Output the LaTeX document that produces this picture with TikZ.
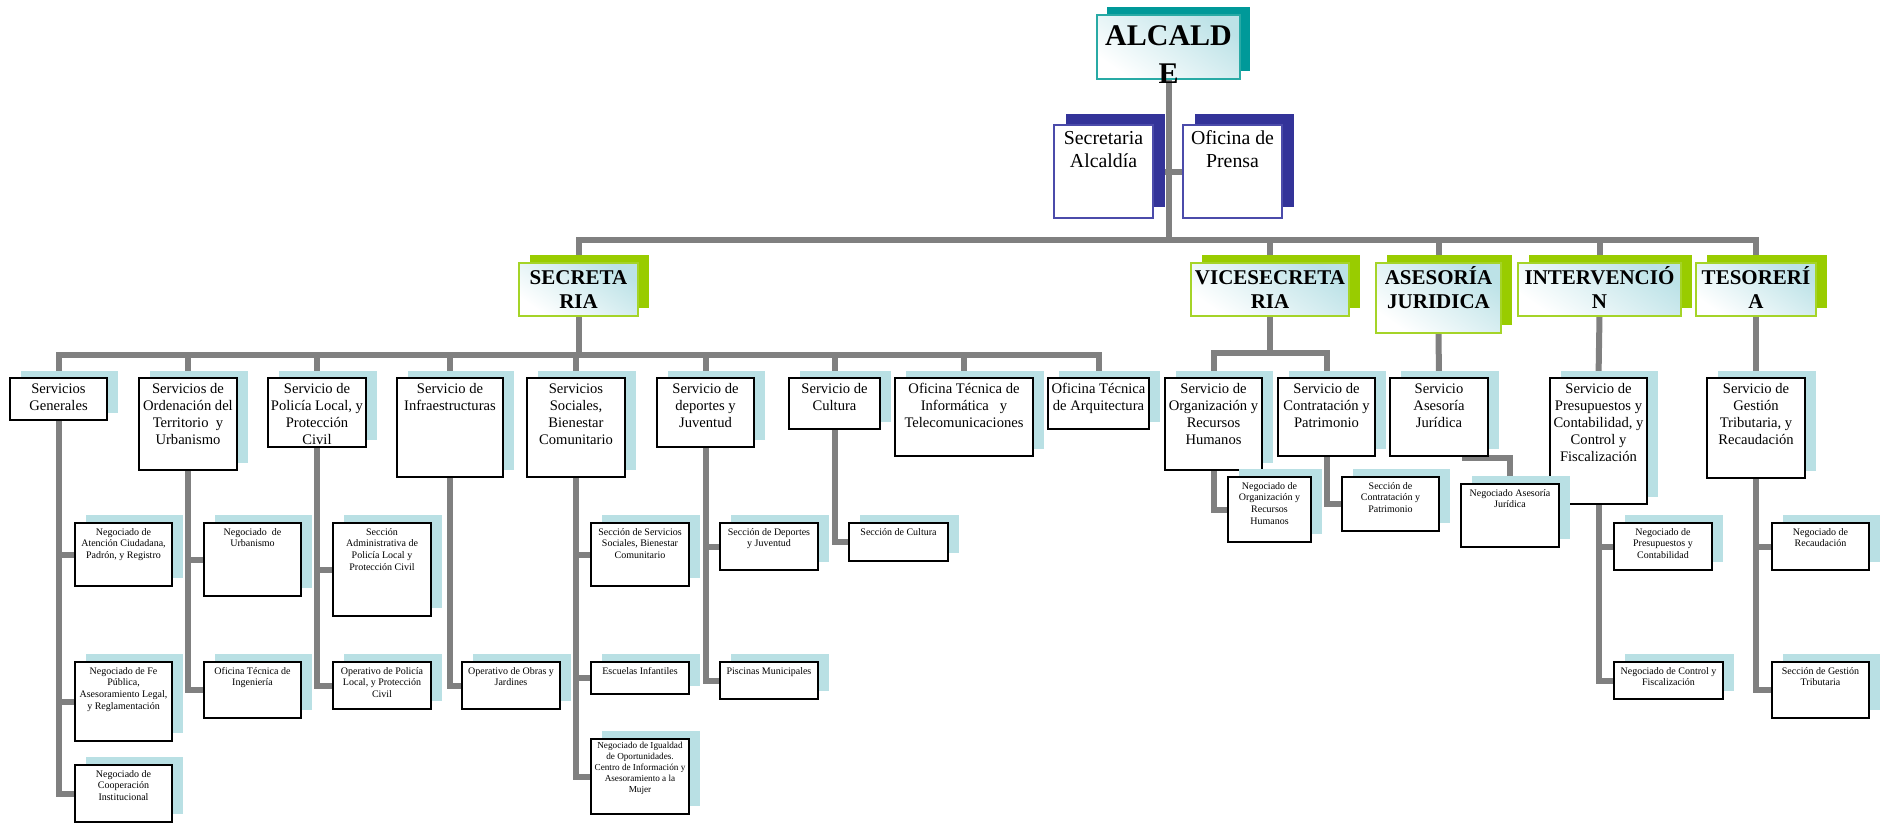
\documentclass[tikz,border=0pt]{standalone}
\usepackage{fontspec}
\setmainfont{Liberation Serif}
\usetikzlibrary{calc}
\definecolor{tealsh}{RGB}{0,153,153}
\definecolor{tealbd}{RGB}{40,170,165}
\definecolor{navysh}{RGB}{51,51,153}
\definecolor{navybd}{RGB}{75,75,170}
\definecolor{greensh}{RGB}{153,204,0}
\definecolor{greenbd}{RGB}{165,212,40}
\definecolor{lightsh}{RGB}{185,224,228}
\definecolor{gradc}{RGB}{188,226,231}
\definecolor{conngray}{RGB}{128,128,128}
\pgfdeclarelayer{bg}
\pgfsetlayers{bg,main}
\newcommand\kast{\rule{0pt}{30pt}}
\newcommand\kbst{\rule{0pt}{19pt}}
\newcommand\kcst{\rule{0pt}{21pt}}
\newcommand\kdst{\rule{0pt}{15pt}}
\newcommand\kest{\rule{0pt}{12pt}}
\newcommand\kfst{\rule{0pt}{9.5pt}}
\tikzset{
  conn/.style={draw=conngray, line width=6pt},
  txtbase/.style={anchor=north, inner sep=0pt, outer sep=0pt, align=center, text=black},
  kash/.style={fill=tealsh, xshift=10pt, yshift=8.5pt},
  kabox/.style={draw=tealbd, line width=1.8pt, top color=gradc, bottom color=white, shading angle=-35},
  katxt/.style={font=\fontsize{30}{38}\selectfont\bfseries},
  kbsh/.style={fill=navysh, xshift=11.5pt, yshift=11pt},
  kbbox/.style={draw=navybd, line width=1.6pt, fill=white},
  kbtxt/.style={font=\fontsize{19.8}{23}\selectfont},
  kcsh/.style={fill=greensh, xshift=10.5pt, yshift=8pt},
  kcbox/.style={draw=greenbd, line width=1.8pt, top color=gradc, bottom color=white, shading angle=-35},
  kctxt/.style={font=\fontsize{21}{24}\selectfont\bfseries},
  kdsh/.style={fill=lightsh, xshift=10.5pt, yshift=7.5pt},
  kdbox/.style={draw=black, line width=2.4pt, fill=white},
  kdtxt/.style={font=\fontsize{14.6}{17.2}\selectfont},
  kesh/.style={fill=lightsh, xshift=10.5pt, yshift=8pt},
  kebox/.style={draw=black, line width=2.4pt, fill=white},
  ketxt/.style={font=\fontsize{10}{11.8}\selectfont},
  kfsh/.style={fill=lightsh, xshift=10.5pt, yshift=8pt},
  kfbox/.style={draw=black, line width=2.4pt, fill=white},
  kftxt/.style={font=\fontsize{9.2}{10.9}\selectfont},
}
% name, kind, x1, y1, x2, y2, text
\newcommand\bx[7]{%
  \fill[#2sh] (#3,#4) rectangle (#5,#6);
  \node[#2box, inner sep=0pt, outer sep=0pt, anchor=north west,
        minimum width={(#5-#3)*1pt}, minimum height={(#6-#4)*1pt}] (#1) at (#3,#4) {};
  \node[txtbase, #2txt] (#1t) at (#1.north) {\csname #2st\endcsname#7};
}
\begin{document}
\begin{tikzpicture}[x=1pt,y=-1pt]
\useasboundingbox (0,0) rectangle (1880,823);

% level 1
\bx{alc}{ka}{1097}{15}{1240}{79}{ALCALD\\E}
\bx{sal}{kb}{1054}{125}{1153}{218}{Secretaria\\Alcaldía}
\bx{ofp}{kb}{1183}{125}{1282}{218}{Oficina de\\Prensa}

% level 2
\bx{sec}{kc}{519}{263}{638}{316}{SECRETA\\RIA}
\bx{vic}{kc}{1191}{263}{1349}{316}{VICESECRETA\\RIA}
\bx{ase}{kc}{1376}{263}{1501}{333}{ASESORÍA\\JURIDICA}
\bx{int}{kc}{1518}{263}{1681}{316}{INTERVENCIÓ\\N}
\bx{tes}{kc}{1696}{263}{1816}{316}{TESORERÍ\\A}

% level 3
\bx{gen}{kd}{10}{378}{107}{420}{Servicios\\Generales}
\bx{ord}{kd}{139}{378}{237}{470}{Servicios de\\Ordenación del\\Territorio~ y\\Urbanismo}
\bx{pol}{kd}{268}{378}{366}{447}{Servicio de\\Policía Local, y\\Protección\\Civil}
\bx{inf}{kd}{397}{378}{503}{477}{Servicio de\\Infraestructuras}
\bx{soc}{kd}{527}{378}{625}{477}{Servicios\\Sociales,\\Bienestar\\Comunitario}
\bx{dep}{kd}{657}{378}{754}{447}{Servicio de\\deportes y\\Juventud}
\bx{cul}{kd}{789}{378}{880}{429}{Servicio de\\Cultura}
\bx{tic}{kd}{895}{378}{1033}{456}{Oficina Técnica de\\Informática~~ y\\Telecomunicaciones}
\bx{arq}{kd}{1048}{378}{1149}{429}{Oficina Técnica\\de Arquitectura}
\bx{org}{kd}{1165}{378}{1262}{470}{Servicio de\\Organización y\\Recursos\\Humanos}
\bx{con}{kd}{1278}{378}{1375}{456}{Servicio de\\Contratación y\\Patrimonio}
\bx{saj}{kd}{1390}{378}{1488}{456}{Servicio\\Asesoría\\Jurídica}
\bx{spc}{kd}{1550}{378}{1647}{504}{Servicio de\\Presupuestos y\\Contabilidad, y\\Control y\\Fiscalización}
\bx{sgt}{kd}{1707}{378}{1805}{478}{Servicio de\\Gestión\\Tributaria, y\\Recaudación}

% level 4
\bx{n1}{ke}{75}{523}{172}{586}{Negociado de\\Atención Ciudadana,\\Padrón, y Registro}
\bx{n2}{ke}{75}{662}{172}{741}{Negociado de Fe\\Pública,\\Asesoramiento Legal,\\y Reglamentación}
\bx{n3}{ke}{75}{765}{172}{822}{Negociado de\\Cooperación\\Institucional}
\bx{n4}{ke}{204}{523}{301}{596}{Negociado~ de\\Urbanismo}
\bx{n5}{ke}{204}{662}{301}{718}{Oficina Técnica de\\Ingeniería}
\bx{n6}{ke}{333}{523}{431}{616}{Sección\\Administrativa de\\Policía Local y\\Protección Civil}
\bx{n7}{ke}{333}{662}{431}{709}{Operativo de Policía\\Local, y Protección\\Civil}
\bx{n8}{ke}{462}{662}{560}{709}{Operativo de Obras y\\Jardines}
\bx{n9}{ke}{591}{523}{689}{586}{Sección de Servicios\\Sociales, Bienestar\\Comunitario}
\bx{n10}{ke}{591}{662}{689}{694}{Escuelas Infantiles}
\bx{n11}{kf}{591}{739}{689}{814}{Negociado de Igualdad\\de Oportunidades.\\Centro de Información y\\Asesoramiento a la\\Mujer}
\bx{n12}{ke}{720}{523}{818}{570}{Sección de Deportes\\y Juventud}
\bx{n13}{ke}{720}{662}{818}{699}{Piscinas Municipales}
\bx{n14}{ke}{849}{523}{948}{561}{Sección de Cultura}
\bx{n15}{ke}{1228}{477}{1311}{542}{Negociado de\\Organización y\\Recursos\\Humanos}
\bx{n16}{ke}{1342}{477}{1439}{531}{Sección de\\Contratación y\\Patrimonio}
\bx{n17}{ke}{1461}{484}{1559}{547}{Negociado Asesoría\\Jurídica}
\bx{n18}{ke}{1614}{523}{1712}{570}{Negociado de\\Presupuestos y\\Contabilidad}
\bx{n19}{ke}{1614}{662}{1723}{699}{Negociado de Control y\\Fiscalización}
\bx{n20}{ke}{1772}{523}{1869}{570}{Negociado de\\Recaudación}
\bx{n21}{ke}{1772}{662}{1869}{718}{Sección de Gestión\\Tributaria}

\begin{pgfonlayer}{bg}
  \fill[white] (0,0) rectangle (1880,823);
  \coordinate (ya) at (0,240);
  \coordinate (yb) at (0,355);
  \coordinate (yc) at (0,353);
  \draw[conn] (alc.south) -- (alc.south |- ya);
  \draw[conn] (sal.east) -- (ofp.west);
  \draw[conn] (sec.north) -- (sec.north |- ya) -- (tes.north |- ya) -- (tes.north);
  \foreach \n in {vic,ase,int} \draw[conn] (\n.north |- ya) -- (\n.north);
  % secretaria branch
  \draw[conn] (sec.south) -- (sec.south |- yb);
  \draw[conn] (gen.north) -- (gen.north |- yb) -- (arq.north |- yb) -- (arq.north);
  \foreach \n in {ord,pol,inf,soc,dep,cul,tic} \draw[conn] (\n.north |- yb) -- (\n.north);
  % vicesecretaria branch
  \draw[conn] (vic.south) -- (vic.south |- yc);
  \draw[conn] (org.north) -- (org.north |- yc) -- (con.north |- yc) -- (con.north);
  % others
  \draw[conn] (ase.south) -- (saj.north);
  \draw[conn] (int.south) -- (spc.north);
  \draw[conn] (tes.south) -- (sgt.north);
  % level 4
  \foreach \c in {n1,n2,n3} \draw[conn] (gen.south) |- (\c.west);
  \foreach \c in {n4,n5} \draw[conn] (ord.south) |- (\c.west);
  \foreach \c in {n6,n7} \draw[conn] (pol.south) |- (\c.west);
  \draw[conn] (inf.south) |- (n8.west);
  \foreach \c in {n9,n10,n11} \draw[conn] (soc.south) |- (\c.west);
  \foreach \c in {n12,n13} \draw[conn] (dep.south) |- (\c.west);
  \draw[conn] (cul.south) |- (n14.west);
  \draw[conn] (org.south) |- (n15.west);
  \draw[conn] (con.south) |- (n16.west);
  \draw[conn] ([xshift=-26pt,yshift=-2pt]saj.south east) -| (n17.north);
  \foreach \c in {n18,n19} \draw[conn] (spc.south) |- (\c.west);
  \foreach \c in {n20,n21} \draw[conn] (sgt.south) |- (\c.west);
\end{pgfonlayer}
\end{tikzpicture}
\end{document}
